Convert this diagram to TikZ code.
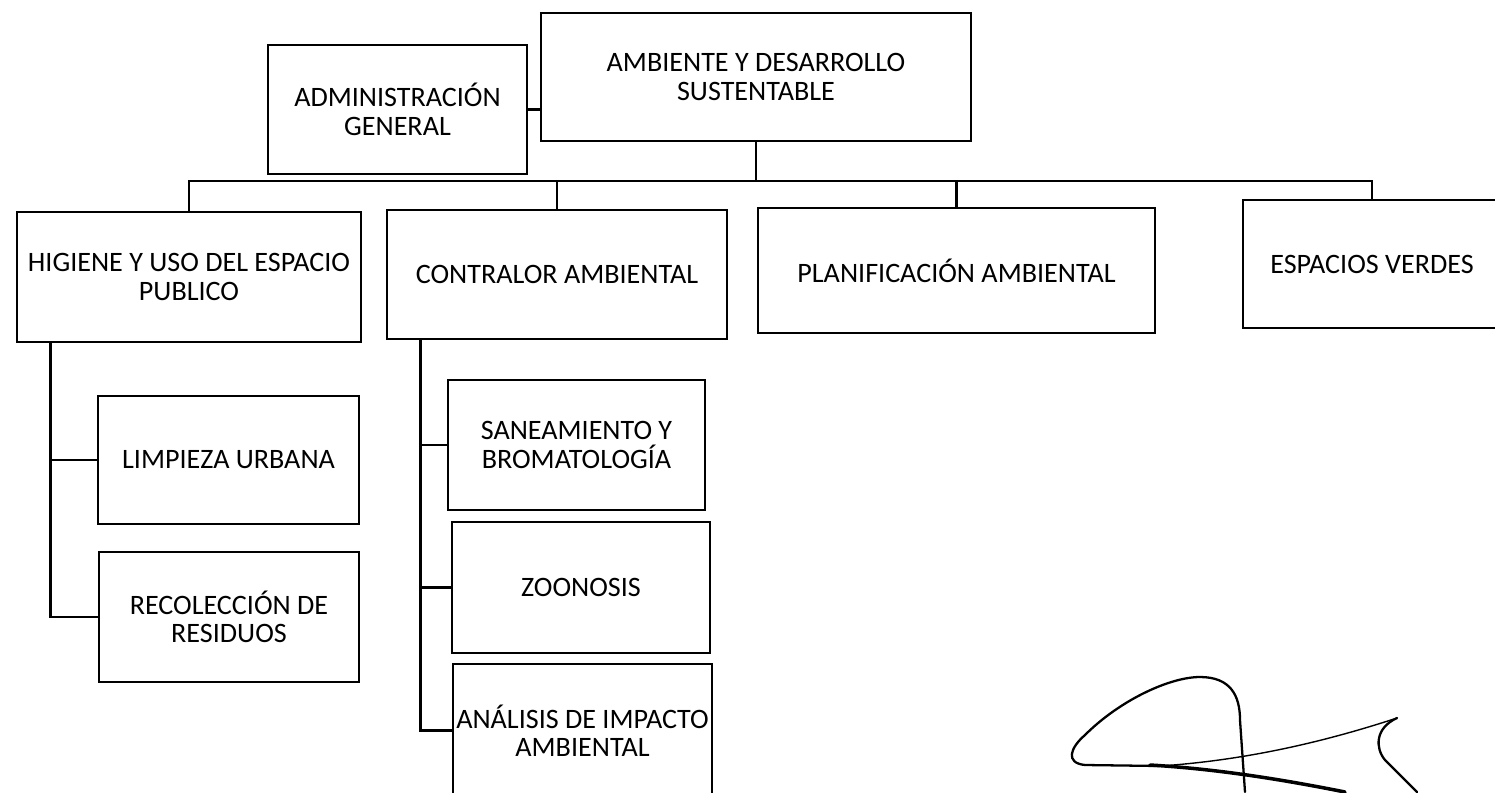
\documentclass[tikz,border=0pt]{standalone}
\usepackage{fontspec}
\setmainfont{Carlito}
\usepackage{tikz}
\tikzstyle{caja} = [draw,line width=1.6pt,align=center,inner sep=0pt,font=\fontsize{16}{16.2}\selectfont]
\tikzstyle{linea} = [line width=1.3pt]
\tikzstyle{firma} = [line width=1.3pt,line cap=round,line join=round]

\begin{document}
\begin{tikzpicture}[x=0.02cm,y=-0.02cm]
                \useasboundingbox (0,0) rectangle (1495,792);
                \node[caja,minimum width=5.18cm,minimum height=2.58cm] (admin) at (397.5,109.5) {ADMINISTRACIÓN\\GENERAL};
                \node[caja,minimum width=8.6cm,minimum height=2.56cm] (amb) at (756,77) {AMBIENTE Y DESARROLLO\\SUSTENTABLE};
                \node[caja,minimum width=6.88cm,minimum height=2.6cm] (hig) at (189,277) {HIGIENE Y USO DEL ESPACIO\\PUBLICO};
                \node[caja,minimum width=6.8cm,minimum height=2.58cm] (con) at (557,274.5) {CONTRALOR AMBIENTAL};
                \node[caja,minimum width=7.94cm,minimum height=2.5cm] (plan) at (956.5,270.5) {PLANIFICACIÓN AMBIENTAL};
                \node[caja,minimum width=5.16cm,minimum height=2.56cm] (esp) at (1372,264) {ESPACIOS VERDES};
                \node[caja,minimum width=5.22cm,minimum height=2.56cm] (limp) at (228.5,460) {LIMPIEZA URBANA};
                \node[caja,minimum width=5.2cm,minimum height=2.6cm] (rec) at (229,617) {RECOLECCIÓN DE\\RESIDUOS};
                \node[caja,minimum width=5.14cm,minimum height=2.6cm] (san) at (576.5,445) {SANEAMIENTO Y\\BROMATOLOGÍA};
                \node[caja,minimum width=5.16cm,minimum height=2.62cm] (zoo) at (581,587.5) {ZOONOSIS};
                \node[caja,minimum width=5.18cm,minimum height=2.66cm] (ana) at (582.5,730.5) {ANÁLISIS DE IMPACTO\\AMBIENTAL};
                \coordinate (bus) at (756,181);
                \coordinate (hpie) at ([xshift=0.7cm]hig.south west);
                \coordinate (cpie) at ([xshift=0.7cm]con.south west);
                \draw[linea] (admin.east) -- (admin.east -| amb.west);
                \draw[linea] (amb.south) -- (bus);
                \draw[linea] (hig.north) |- (bus) -| (esp.north);
                \draw[linea] (con.north) -- (con.north |- bus);
                \draw[linea] (plan.north) -- (plan.north |- bus);
                \draw[linea] (hpie) |- (limp.west);
                \draw[linea] (hpie) |- (rec.west);
                \draw[linea] (cpie) |- (san.west);
                \draw[linea] (cpie) |- (zoo.west);
                \draw[linea] (cpie) |- (ana.west);
                \draw[firma] (1245,792) -- (1240,720) .. controls (1240,695) and (1230,677) .. (1200,677) .. controls (1170,677) and (1120,700) .. (1085,735) .. controls (1070,748) and (1065,763) .. (1085,765) -- (1160,766);
                \draw[firma,line width=2pt] (1150,765) .. controls (1200,768) and (1260,775) .. (1345,792);
                \draw[firma,line width=0.8pt] (1160,766) .. controls (1250,760) and (1330,740) .. (1397,718);
                \draw[firma] (1397,718) .. controls (1375,728) and (1375,748) .. (1385,760) -- (1417,792);
\end{tikzpicture}
\end{document}
